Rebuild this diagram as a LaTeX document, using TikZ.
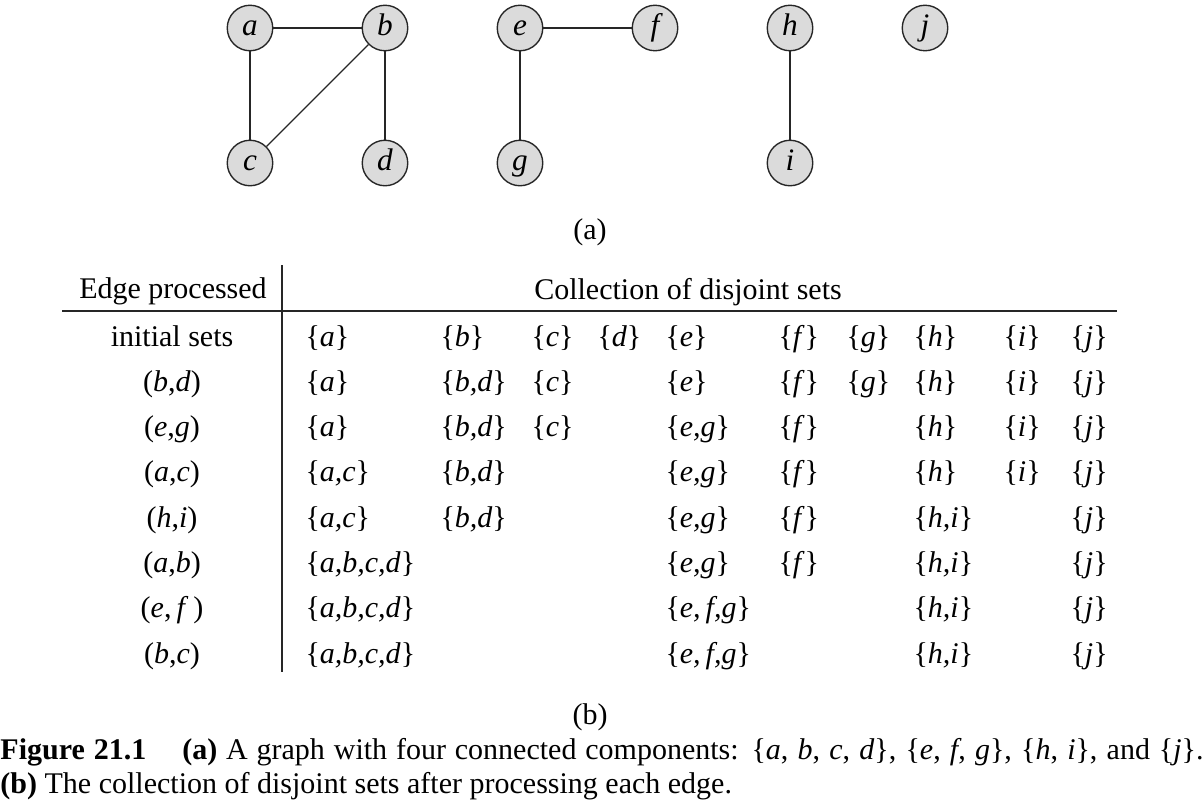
\documentclass[tikz,border=0pt]{standalone}
\usepackage{fontspec}
\setmainfont{Liberation Serif}
\usepackage{xcolor}
\usepackage{tikz}

\newcommand{\sv}[1]{\textit{#1}}

\begin{document}
\begin{tikzpicture}[x=0.4pt, y=-0.4pt, font=\fontsize{12}{14}\selectfont,
    vertex/.style={circle, draw=black!85, line width=0.55pt, fill=black!14,
      minimum size=18.2pt, inner sep=0pt, text height=1.3ex, text depth=0pt,
      font=\fontsize{12.5}{14}\selectfont\itshape},
    edge/.style={draw=black!85, line width=0.5pt},
    rule/.style={draw=black!85, line width=0.5pt},
    setcell/.style={anchor=base west, inner sep=0pt},
    edgecell/.style={anchor=base, inner sep=0pt}]
  \useasboundingbox (0,0) rectangle (1203,809);

  % Grafo (a)
  \node[vertex] (a) at (250,28) {a};
  \node[vertex] (b) at (385,28) {b};
  \node[vertex] (c) at (250,163) {c};
  \node[vertex] (d) at (385,163) {d};
  \node[vertex] (e) at (520,28) {e};
  \node[vertex] (f) at (655,28) {f};
  \node[vertex] (g) at (520,163) {g};
  \node[vertex] (h) at (790,28) {h};
  \node[vertex] (i) at (790,163) {i};
  \node[vertex] (j) at (925,28) {j};
  \foreach \u/\v in {a/b, a/c, b/c, b/d, e/f, e/g, h/i}
    \draw[edge] (\u) -- (\v);
  \node (cap-a) at (590,232) {(a)};

  % Tabla (b)
  \node[edgecell] (head-edge) at (173,298) {Edge processed};
  \node[edgecell] (head-sets) at (688,299) {Collection of disjoint sets};
  \coordinate (vtop) at (282,265);
  \coordinate (vbot) at (282,672);
  \coordinate (hleft) at (62,311);
  \coordinate (hright) at (1117,311);
  \draw[rule] (vtop) -- (vbot);
  \draw[rule] (hleft) -- (hright);

  \foreach \y/\lab/\sets in {
      346/{initial sets}/{305/a,440/b,531/c,597/d,665/e,778/f,846/g,913/h,1003/i,1070/j},
      391.3/{(\sv{b},\sv{d})}/{305/a,440/{b,d},531/c,665/e,778/f,846/g,913/h,1003/i,1070/j},
      436.6/{(\sv{e},\sv{g})}/{305/a,440/{b,d},531/c,665/{e,g},778/f,913/h,1003/i,1070/j},
      481.9/{(\sv{a},\sv{c})}/{305/{a,c},440/{b,d},665/{e,g},778/f,913/h,1003/i,1070/j},
      527.2/{(\sv{h},\sv{i})}/{305/{a,c},440/{b,d},665/{e,g},778/f,913/{h,i},1070/j},
      572.5/{(\sv{a},\sv{b})}/{305/{a,b,c,d},665/{e,g},778/f,913/{h,i},1070/j},
      617.8/{(\sv{e},\,\sv{f}\,)}/{305/{a,b,c,d},665/{e,\,f,g},913/{h,i},1070/j},
      663.1/{(\sv{b},\sv{c})}/{305/{a,b,c,d},665/{e,\,f,g},913/{h,i},1070/j}} {
    \node[edgecell] (edge-\y) at (172,\y) {\lab};
    \foreach \x/\t in \sets
      \node[setcell] (set-\y-\x) at (\x,\y) {\{\sv{\t}\}};
  }
  \node (cap-b) at (590,717) {(b)};

  % Pie de figura
  \node[anchor=base west, inner sep=0pt] (caption1) at (0,759)
    {\makebox[481.2pt][s]{\textbf{Figure 21.1}\hspace{1.2em}\textbf{(a)} A graph with four connected components:
     \{\sv{a}, \sv{b}, \sv{c}, \sv{d}\}, \{\sv{e}, \sv{f}, \sv{g}\}, \{\sv{h}, \sv{i}\}, and \{\sv{j}\}.}};
  \node[anchor=base west, inner sep=0pt] (caption2) at (0,793)
    {\textbf{(b)} The collection of disjoint sets after processing each edge.};
\end{tikzpicture}
\end{document}
